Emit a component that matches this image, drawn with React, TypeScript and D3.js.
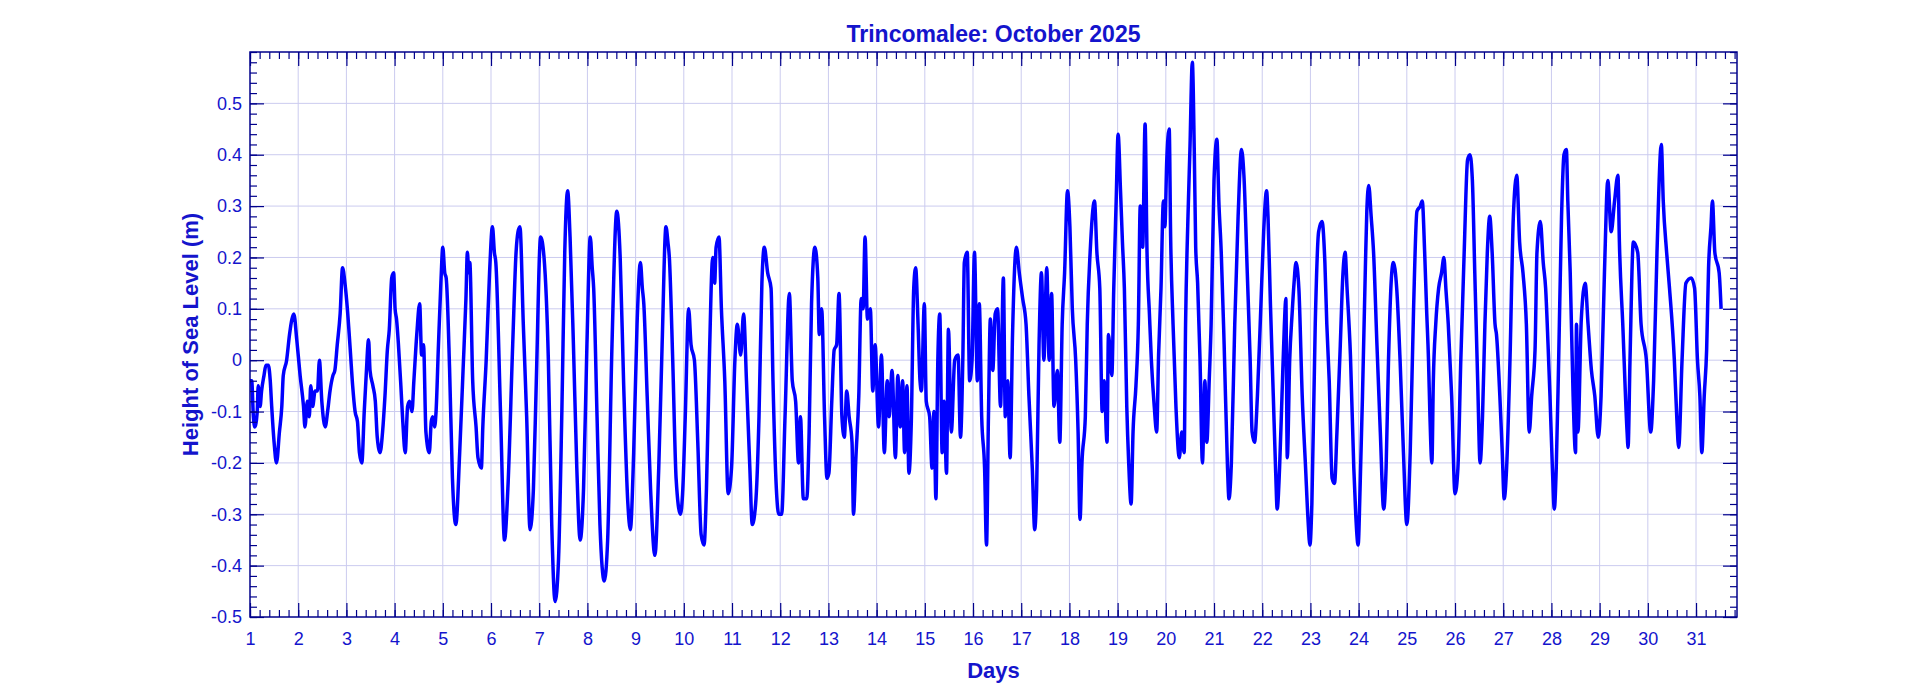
import React, { useEffect, useRef } from "react";
import * as d3 from "d3";

// readings: [day of month, height (m)]
const readings: [number, number][] = [
	[1.0, -0.04], [1.035, -0.04], [1.07, -0.11], [1.1, -0.13], [1.15, -0.1], [1.17, -0.05], [1.21, -0.09], [1.24, -0.06],
	[1.29, -0.03], [1.33, -0.01], [1.38, -0.01], [1.42, -0.04], [1.45, -0.09], [1.5, -0.16], [1.55, -0.2], [1.61, -0.14],
	[1.66, -0.09], [1.69, -0.03], [1.76, 0.0], [1.82, 0.05], [1.87, 0.08], [1.91, 0.09], [1.97, 0.04], [2.04, -0.03],
	[2.11, -0.09], [2.14, -0.13], [2.19, -0.08], [2.23, -0.11], [2.26, -0.05], [2.3, -0.09], [2.35, -0.06], [2.4, -0.06],
	[2.44, 0.0], [2.49, -0.08], [2.56, -0.13], [2.61, -0.1], [2.66, -0.06], [2.72, -0.03], [2.76, -0.02], [2.81, 0.03],
	[2.87, 0.09], [2.92, 0.18], [2.97, 0.15], [3.02, 0.1], [3.08, 0.02], [3.13, -0.05], [3.18, -0.1], [3.23, -0.12],
	[3.27, -0.18], [3.32, -0.2], [3.37, -0.1], [3.41, -0.03], [3.46, 0.04], [3.49, -0.02], [3.55, -0.05], [3.6, -0.08],
	[3.64, -0.15], [3.7, -0.18], [3.75, -0.14], [3.8, -0.07], [3.85, 0.02], [3.89, 0.06], [3.94, 0.16], [3.98, 0.17],
	[4.01, 0.1], [4.04, 0.08], [4.08, 0.03], [4.13, -0.05], [4.17, -0.12], [4.22, -0.18], [4.27, -0.09], [4.31, -0.08],
	[4.36, -0.1], [4.4, -0.04], [4.46, 0.05], [4.52, 0.11], [4.56, 0.01],
	[4.6, 0.03], [4.65, -0.14], [4.72, -0.18], [4.76, -0.12], [4.79, -0.11], [4.83, -0.13], [4.86, -0.1], [4.91, 0.03],
	[4.96, 0.15], [5.0, 0.22], [5.04, 0.17], [5.07, 0.16], [5.14, -0.015], [5.2, -0.23], [5.27, -0.32], [5.35, -0.18],
	[5.42, -0.02], [5.48, 0.12], [5.51, 0.21], [5.54, 0.17], [5.56, 0.19], [5.62, -0.04], [5.69, -0.13], [5.73, -0.19],
	[5.8, -0.21], [5.83, -0.13], [5.9, 0.0], [5.97, 0.17], [6.03, 0.26], [6.07, 0.21], [6.1, 0.19], [6.2, -0.11],
	[6.28, -0.35], [6.35, -0.25], [6.45, 0.03], [6.52, 0.21], [6.56, 0.25], [6.6, 0.26], [6.67, 0.07], [6.74, -0.11],
	[6.81, -0.33], [6.88, -0.25], [6.94, -0.04], [7.03, 0.24], [7.1, 0.2], [7.19, 0.0], [7.26, -0.32], [7.33, -0.47],
	[7.4, -0.39], [7.47, -0.1], [7.53, 0.21], [7.59, 0.33], [7.64, 0.24], [7.71, 0.03], [7.78, -0.21], [7.85, -0.35],
	[7.92, -0.25], [7.99, 0.03], [8.06, 0.24], [8.1, 0.18], [8.13, 0.14], [8.2, -0.11], [8.26, -0.32], [8.35, -0.43],
	[8.42, -0.35], [8.51, 0.03], [8.61, 0.29], [8.68, 0.2], [8.75, -0.04], [8.84, -0.28], [8.89, -0.33], [8.96, -0.18],
	[9.03, 0.07], [9.1, 0.19], [9.14, 0.14], [9.17, 0.11], [9.24, -0.07], [9.31, -0.25], [9.4, -0.38], [9.48, -0.21],
	[9.55, 0.03], [9.63, 0.26],
	[9.67, 0.23], [9.7, 0.2], [9.77, 0.0], [9.84, -0.23], [9.93, -0.3], [9.98, -0.25], [10.03, -0.11], [10.1, 0.1],
	[10.15, 0.03], [10.22, 0.0], [10.29, -0.16], [10.36, -0.34], [10.42, -0.36], [10.47, -0.25], [10.53, 0.0], [10.6, 0.2],
	[10.64, 0.15], [10.67, 0.22], [10.73, 0.24], [10.78, 0.1], [10.85, -0.04], [10.92, -0.26], [10.99, -0.21], [11.06, 0.0],
	[11.11, 0.07], [11.18, 0.01], [11.24, 0.09], [11.3, -0.04], [11.37, -0.21], [11.42, -0.32], [11.49, -0.28], [11.56, -0.11],
	[11.62, 0.15], [11.67, 0.22], [11.74, 0.17], [11.81, 0.14], [11.85, -0.04], [11.92, -0.25], [11.97, -0.3], [12.03, -0.3],
	[12.1, -0.11], [12.19, 0.13], [12.25, -0.04], [12.32, -0.08], [12.38, -0.2], [12.42, -0.11], [12.48, -0.27], [12.55, -0.27],
	[12.6, -0.14], [12.65, 0.11], [12.72, 0.22], [12.78, 0.16], [12.81, 0.05], [12.86, 0.1], [12.92, -0.11], [12.97, -0.23],
	[13.01, -0.22], [13.07, -0.08], [13.12, 0.02], [13.17, 0.03], [13.22, 0.13], [13.28, -0.11], [13.33, -0.15], [13.38, -0.06],
	[13.43, -0.11], [13.49, -0.16], [13.52, -0.3], [13.57, -0.19], [13.63, -0.07], [13.68, 0.12], [13.72, 0.1], [13.76, 0.24],
	[13.81, 0.08], [13.87, 0.1], [13.92, -0.06], [13.97, 0.03], [14.04, -0.13], [14.1, 0.01], [14.16, -0.18], [14.22, -0.04],
	[14.26, -0.11], [14.32, -0.02], [14.39, -0.19], [14.44, -0.03], [14.49, -0.13], [14.54, -0.04], [14.58, -0.18], [14.63, -0.05],
	[14.67, -0.22], [14.72, -0.12], [14.77, 0.14], [14.81, 0.18],
	[14.86, 0.07], [14.9, -0.04], [14.93, -0.06], [14.99, 0.11], [15.03, -0.08], [15.1, -0.11], [15.15, -0.21], [15.19, -0.1],
	[15.23, -0.27], [15.27, 0.0], [15.31, 0.09], [15.36, -0.18], [15.4, -0.08], [15.45, -0.22], [15.49, 0.06], [15.55, -0.14],
	[15.62, 0.0], [15.69, 0.01], [15.74, -0.15], [15.79, 0.01], [15.82, 0.19], [15.88, 0.21], [15.93, -0.04], [15.98, 0.0],
	[16.03, 0.21], [16.09, -0.04], [16.13, 0.11], [16.18, -0.11], [16.24, -0.21], [16.28, -0.36], [16.32, -0.11], [16.36, 0.08],
	[16.41, -0.02], [16.46, 0.09], [16.51, 0.1], [16.57, -0.09], [16.63, 0.16], [16.67, -0.11], [16.72, -0.04], [16.77, -0.19],
	[16.82, 0.05], [16.9, 0.22], [16.96, 0.17], [17.03, 0.12], [17.1, 0.07], [17.16, -0.07], [17.23, -0.21], [17.28, -0.33],
	[17.32, -0.25], [17.37, 0.03], [17.42, 0.17], [17.47, 0.0], [17.53, 0.18], [17.58, 0.0], [17.63, 0.13], [17.68, -0.09],
	[17.75, -0.02], [17.8, -0.16], [17.85, 0.07], [17.9, 0.17], [17.96, 0.33], [18.01, 0.26], [18.06, 0.1], [18.13, 0.0],
	[18.18, -0.14], [18.22, -0.31], [18.26, -0.2], [18.33, -0.11], [18.37, 0.07], [18.43, 0.21], [18.52, 0.31], [18.57, 0.21],
	[18.63, 0.14], [18.68, -0.1], [18.72, -0.04], [18.78, -0.16], [18.81, 0.05], [18.88, -0.03], [18.92, 0.14], [18.97, 0.31],
	[19.01, 0.44], [19.06, 0.33], [19.1, 0.23], [19.14, 0.14], [19.19, -0.09], [19.23, -0.2], [19.28, -0.28], [19.32, -0.14],
	[19.38, -0.05], [19.43, 0.07], [19.47, 0.3], [19.52, 0.22], [19.57, 0.46], [19.61, 0.21], [19.66, 0.09], [19.7, 0.0],
	[19.76, -0.09], [19.81, -0.14], [19.85, 0.01], [19.9, 0.14], [19.95, 0.31], [19.98, 0.26], [20.02, 0.39], [20.07, 0.45],
	[20.1, 0.24], [20.15, 0.07], [20.21, -0.09], [20.28, -0.19], [20.33, -0.14], [20.38, -0.18], [20.41, 0.07], [20.46, 0.28],
	[20.5, 0.41], [20.55, 0.58], [20.59, 0.41], [20.62, 0.22], [20.66, 0.15], [20.71, 0.0], [20.76, -0.2], [20.81, -0.04],
	[20.85, -0.16], [20.9, -0.04], [20.94, 0.07], [21.0, 0.35], [21.06, 0.43], [21.1, 0.31], [21.15, 0.21], [21.21, 0.03],
	[21.28, -0.21], [21.31, -0.27], [21.36, -0.2], [21.43, 0.07], [21.5, 0.28], [21.57, 0.41], [21.62, 0.36], [21.69, 0.17],
	[21.75, 0.0], [21.79, -0.14], [21.84, -0.16], [21.9, -0.07], [21.97, 0.1], [22.03, 0.25], [22.09, 0.33], [22.12, 0.28],
	[22.17, 0.11], [22.23, -0.07], [22.28, -0.22], [22.31, -0.29], [22.36, -0.21], [22.41, -0.07], [22.46, 0.07], [22.49, 0.12],
	[22.52, -0.19], [22.57, 0.0], [22.62, 0.09], [22.66, 0.15], [22.7, 0.19], [22.76, 0.14], [22.83, -0.07], [22.9, -0.21],
	[22.95, -0.31], [22.99, -0.36], [23.03, -0.28], [23.1, 0.07], [23.17, 0.25], [23.24, 0.27],
	[23.3, 0.19], [23.34, 0.07], [23.39, -0.04], [23.45, -0.23], [23.5, -0.24], [23.55, -0.14], [23.62, 0.03], [23.67, 0.16],
	[23.72, 0.21], [23.76, 0.14], [23.83, 0.01], [23.9, -0.21], [23.94, -0.3], [23.99, -0.36], [24.03, -0.25], [24.08, -0.07],
	[24.14, 0.18], [24.17, 0.29], [24.21, 0.34], [24.26, 0.28], [24.31, 0.21], [24.38, 0.03], [24.45, -0.14], [24.52, -0.29],
	[24.57, -0.21], [24.62, 0.0], [24.68, 0.16], [24.72, 0.19], [24.79, 0.14], [24.86, 0.0], [24.93, -0.18], [25.0, -0.32],
	[25.07, -0.18], [25.14, 0.1], [25.21, 0.29], [25.28, 0.3], [25.32, 0.31], [25.37, 0.21], [25.41, 0.1], [25.45, 0.0],
	[25.48, -0.11], [25.52, -0.2], [25.55, -0.04], [25.6, 0.07], [25.66, 0.14], [25.72, 0.17], [25.77, 0.2], [25.81, 0.14],
	[25.86, 0.07], [25.93, -0.07], [26.0, -0.26], [26.06, -0.21], [26.12, 0.0], [26.19, 0.21], [26.26, 0.39], [26.31, 0.4],
	[26.36, 0.35], [26.41, 0.17], [26.47, -0.04], [26.52, -0.2], [26.57, -0.11], [26.62, 0.07], [26.67, 0.21], [26.72, 0.28],
	[26.77, 0.21], [26.83, 0.07], [26.86, 0.05], [26.93, -0.07], [26.98, -0.18], [27.02, -0.27], [27.07, -0.21], [27.14, 0.0],
	[27.21, 0.28], [27.28, 0.36], [27.34, 0.23], [27.41, 0.17], [27.48, 0.07],
	[27.54, -0.14], [27.59, -0.07], [27.66, 0.02], [27.7, 0.21], [27.77, 0.27], [27.83, 0.19], [27.88, 0.14], [27.93, 0.03],
	[27.97, -0.07], [28.02, -0.21], [28.06, -0.29], [28.1, -0.21], [28.15, 0.0], [28.21, 0.28], [28.26, 0.4], [28.31, 0.41],
	[28.34, 0.31], [28.39, 0.17], [28.45, -0.07], [28.5, -0.18], [28.52, 0.07], [28.55, -0.14], [28.62, 0.08], [28.7, 0.15],
	[28.76, 0.07], [28.83, -0.02], [28.9, -0.07], [28.97, -0.15], [29.03, -0.07], [29.1, 0.17], [29.17, 0.35], [29.24, 0.25],
	[29.31, 0.31], [29.38, 0.36], [29.41, 0.23], [29.48, 0.07], [29.57, -0.14], [29.59, -0.17], [29.63, 0.0], [29.7, 0.23],
	[29.79, 0.21], [29.86, 0.07], [29.97, 0.0], [30.06, -0.14], [30.12, -0.04], [30.19, 0.21], [30.28, 0.42], [30.32, 0.31],
	[30.39, 0.21], [30.45, 0.14], [30.55, 0.0], [30.6, -0.11], [30.64, -0.17], [30.71, 0.0], [30.79, 0.15], [30.9, 0.16],
	[30.97, 0.14], [31.03, 0.0], [31.08, -0.07], [31.12, -0.18], [31.17, -0.07], [31.22, 0.02], [31.26, 0.18], [31.31, 0.26],
	[31.34, 0.31], [31.39, 0.21], [31.48, 0.17], [31.52, 0.1],
];

const dayTicks = d3.range(1, 32);
const levelTicks = [-0.5, -0.4, -0.3, -0.2, -0.1, 0, 0.1, 0.2, 0.3, 0.4, 0.5];
const levelTickLabels = ["-0.5", "-0.4", "-0.3", "-0.2", "-0.1", "0", "0.1", "0.2", "0.3", "0.4", "0.5"];

const TITLE = "Trincomalee: October 2025";
const X_LABEL = "Days";
const Y_LABEL = "Height of Sea Level (m)";

const W = 1920;
const H = 694;
const margin = { top: 52, right: 183, bottom: 77, left: 250 };
const FONT = "'Liberation Sans', Arial, sans-serif";
const TEXT_BLUE = "#1414cc";
const AXIS_BLUE = "#00008b";

const App: React.FC = () => {
	const svgRef = useRef<SVGSVGElement>(null);

	useEffect(() => {
		if (!svgRef.current) return;
		const svg = d3.select(svgRef.current);
		svg.selectAll("*").remove();

		const left = margin.left;
		const right = W - margin.right;
		const top = margin.top;
		const bottom = H - margin.bottom;

		const x = d3.scaleLinear().domain([1, 31.85]).range([left, right]);
		const y = d3.scaleLinear().domain([-0.5, 0.6]).range([bottom, top]);

		svg.append("rect").attr("width", W).attr("height", H).attr("fill", "#fff");

		// grid
		const grid = svg.append("g").attr("stroke", "#cbcbef").attr("stroke-width", 1);
		grid
			.selectAll("line.vx")
			.data(dayTicks.slice(1))
			.join("line")
			.attr("x1", (d) => x(d))
			.attr("x2", (d) => x(d))
			.attr("y1", top)
			.attr("y2", bottom);
		grid
			.selectAll("line.hy")
			.data(levelTicks.slice(1))
			.join("line")
			.attr("x1", left)
			.attr("x2", right)
			.attr("y1", (d) => y(d))
			.attr("y2", (d) => y(d));

		// series
		const line = d3
			.line<[number, number]>()
			.curve(d3.curveMonotoneX)
			.x((d) => x(d[0]))
			.y((d) => y(d[1]));
		svg
			.append("path")
			.datum(readings)
			.attr("d", line)
			.attr("fill", "none")
			.attr("stroke", "#0000ff")
			.attr("stroke-width", 3.5)
			.attr("stroke-linejoin", "round");

		const minorDays = d3.range(1, 31.85, 0.2);
		const minorLevels = d3.range(-0.5, 0.6001, 0.02);

		const styleAxis = (g: d3.Selection<SVGGElement, unknown, null, undefined>) => {
			g.select(".domain").remove();
			g.selectAll(".tick line").attr("stroke", AXIS_BLUE).attr("stroke-width", 1.2);
			g.selectAll(".tick text")
				.attr("fill", TEXT_BLUE)
				.style("font-family", FONT)
				.style("font-size", "18px");
		};

		// bottom
		svg
			.append("g")
			.attr("transform", `translate(0,${bottom})`)
			.call(d3.axisBottom(x).tickValues(minorDays).tickSize(-7).tickFormat(() => ""))
			.call(styleAxis);
		svg
			.append("g")
			.attr("transform", `translate(0,${bottom})`)
			.call(
				d3
					.axisBottom(x)
					.tickValues(dayTicks)
					.tickSize(-14)
					.tickPadding(15)
					.tickFormat((d) => String(d))
			)
			.call(styleAxis);

		// top
		svg
			.append("g")
			.attr("transform", `translate(0,${top})`)
			.call(d3.axisTop(x).tickValues(minorDays).tickSize(-7).tickFormat(() => ""))
			.call(styleAxis);
		svg
			.append("g")
			.attr("transform", `translate(0,${top})`)
			.call(d3.axisTop(x).tickValues(dayTicks).tickSize(-14).tickFormat(() => ""))
			.call(styleAxis);

		// left
		svg
			.append("g")
			.attr("transform", `translate(${left},0)`)
			.call(d3.axisLeft(y).tickValues(minorLevels).tickSize(-7).tickFormat(() => ""))
			.call(styleAxis);
		svg
			.append("g")
			.attr("transform", `translate(${left},0)`)
			.call(
				d3
					.axisLeft(y)
					.tickValues(levelTicks)
					.tickSize(-14)
					.tickPadding(8)
					.tickFormat((d, i) => levelTickLabels[i])
			)
			.call(styleAxis);

		// right
		svg
			.append("g")
			.attr("transform", `translate(${right},0)`)
			.call(d3.axisRight(y).tickValues(minorLevels).tickSize(-7).tickFormat(() => ""))
			.call(styleAxis);
		svg
			.append("g")
			.attr("transform", `translate(${right},0)`)
			.call(d3.axisRight(y).tickValues(levelTicks).tickSize(-14).tickFormat(() => ""))
			.call(styleAxis);

		// frame
		svg
			.append("rect")
			.attr("x", left)
			.attr("y", top)
			.attr("width", right - left)
			.attr("height", bottom - top)
			.attr("fill", "none")
			.attr("stroke", AXIS_BLUE)
			.attr("stroke-width", 1.5);

		// titles
		svg
			.append("text")
			.attr("x", (left + right) / 2)
			.attr("y", 42)
			.attr("text-anchor", "middle")
			.attr("fill", TEXT_BLUE)
			.style("font-family", FONT)
			.style("font-weight", "bold")
			.style("font-size", "23px")
			.text(TITLE);

		svg
			.append("text")
			.attr("x", (left + right) / 2)
			.attr("y", 678)
			.attr("text-anchor", "middle")
			.attr("fill", TEXT_BLUE)
			.style("font-family", FONT)
			.style("font-weight", "bold")
			.style("font-size", "22px")
			.text(X_LABEL);

		svg
			.append("text")
			.attr("transform", `translate(198,${(top + bottom) / 2}) rotate(-90)`)
			.attr("text-anchor", "middle")
			.attr("fill", TEXT_BLUE)
			.style("font-family", FONT)
			.style("font-weight", "bold")
			.style("font-size", "22px")
			.text(Y_LABEL);
	}, []);

	return (
		<svg
			ref={svgRef}
			width={W}
			height={H}
			style={{ position: "absolute", left: 0, top: 0, display: "block" }}
		/>
	);
};

export default App;
